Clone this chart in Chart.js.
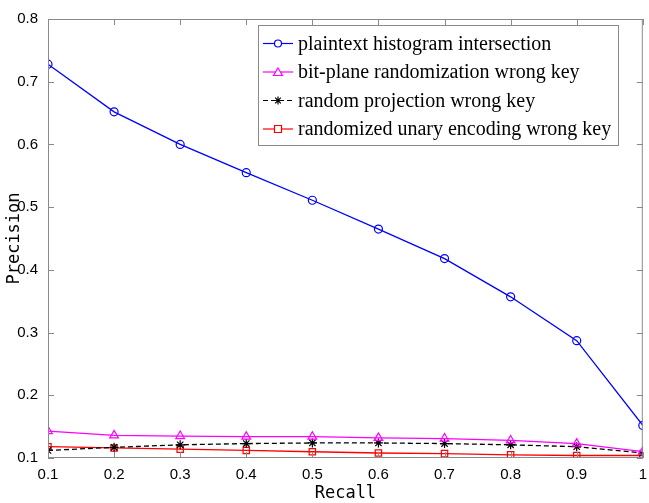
<!DOCTYPE html>
<html>
<head>
<meta charset="utf-8">
<script src="https://cdn.jsdelivr.net/npm/chart.js@4.4.1/dist/chart.umd.min.js"></script>
<style>
  html, body { margin: 0; padding: 0; background: #fff; }
  #wrap { width: 649px; height: 503px; }
</style>
</head>
<body>
<div id="wrap"><canvas id="prChart" width="649" height="503"></canvas></div>
<script>
const recall = [0.1, 0.2, 0.3, 0.4, 0.5, 0.6, 0.7, 0.8, 0.9, 1.0];
const plaintextHist = [0.728, 0.652, 0.600, 0.555, 0.511, 0.465, 0.418, 0.357, 0.287, 0.152];
const bitPlaneWrong = [0.143, 0.136, 0.135, 0.134, 0.134, 0.132, 0.131, 0.128, 0.123, 0.110];
const randProjWrong = [0.112, 0.117, 0.121, 0.123, 0.124, 0.124, 0.123, 0.121, 0.118, 0.108];
const unaryWrong = [0.118, 0.116, 0.114, 0.112, 0.110, 0.108, 0.107, 0.105, 0.104, 0.104];
const seriesLabels = [
    'plaintext histogram intersection',
    'bit-plane randomization wrong key',
    'random projection wrong key',
    'randomized unary encoding wrong key'
];

function toPoints(vals) {
    return vals.map((v, i) => ({ x: recall[i], y: v }));
}

// box + inward ticks on all four sides, matlab style
const boxPlugin = {
    id: 'boxPlugin',
    afterDraw(chart) {
        const { ctx, chartArea: a, scales } = chart;
        ctx.save();
        ctx.strokeStyle = '#8a8a8a';
        ctx.lineWidth = 1;
        ctx.strokeRect(a.left + 0.5, a.top + 0.5, a.right - a.left - 1, a.bottom - a.top - 1);
        ctx.beginPath();
        scales.x.ticks.forEach(t => {
            const px = Math.round(scales.x.getPixelForValue(t.value)) + 0.5;
            ctx.moveTo(px, a.bottom); ctx.lineTo(px, a.bottom - 6);
            ctx.moveTo(px, a.top); ctx.lineTo(px, a.top + 6);
        });
        scales.y.ticks.forEach(t => {
            const py = Math.round(scales.y.getPixelForValue(t.value)) + 0.5;
            ctx.moveTo(a.left, py); ctx.lineTo(a.left + 6, py);
            ctx.moveTo(a.right, py); ctx.lineTo(a.right - 6, py);
        });
        ctx.stroke();
        ctx.restore();
    }
};

// legend drawn by hand so it sits inside the plot like the original
const legendPlugin = {
    id: 'boxLegend',
    afterDraw(chart) {
        const { ctx } = chart;
        const x0 = 258, y0 = 25, w = 360, h = 120;
        ctx.save();
        ctx.fillStyle = '#fff';
        ctx.fillRect(x0, y0, w, h);
        ctx.strokeStyle = '#8a8a8a';
        ctx.lineWidth = 1;
        ctx.strokeRect(x0 + 0.5, y0 + 0.5, w, h);
        ctx.font = '20px "Liberation Serif"';
        ctx.textBaseline = 'middle';
        chart.data.datasets.forEach((ds, i) => {
            const y = y0 + 18.5 + i * 28.5;
            ctx.strokeStyle = ds.borderColor;
            ctx.lineWidth = 1.2;
            ctx.setLineDash(ds.borderDash || []);
            ctx.beginPath();
            ctx.moveTo(x0 + 5, y); ctx.lineTo(x0 + 35, y);
            ctx.stroke();
            ctx.setLineDash([]);
            const style = ds.pointStyle;
            const cx = x0 + 20;
            ctx.beginPath();
            if (style === 'circle') {
                ctx.arc(cx, y, 3.5, 0, Math.PI * 2);
            } else if (style === 'triangle') {
                ctx.moveTo(cx, y - 4); ctx.lineTo(cx + 4.5, y + 3.5); ctx.lineTo(cx - 4.5, y + 3.5); ctx.closePath();
            } else if (style === 'rect') {
                ctx.rect(cx - 3.5, y - 3.5, 7, 7);
            } else {
                for (let k = 0; k < 4; k++) {
                    const ang = k * Math.PI / 4;
                    ctx.moveTo(cx - 4 * Math.cos(ang), y - 4 * Math.sin(ang));
                    ctx.lineTo(cx + 4 * Math.cos(ang), y + 4 * Math.sin(ang));
                }
            }
            ctx.fillStyle = '#fff';
            if (style !== 'star') ctx.fill();
            ctx.stroke();
            ctx.fillStyle = '#000';
            ctx.fillText(ds.label, x0 + 40, y + 1);
        });
        ctx.restore();
    }
};

const ctx = document.getElementById('prChart').getContext('2d');
const prChart = new Chart(ctx, {
    type: 'line',
    data: {
        datasets: [{
            label: seriesLabels[0],
            data: toPoints(plaintextHist),
            borderColor: '#0000ff',
            pointStyle: 'circle',
            pointRadius: 4
        }, {
            label: seriesLabels[1],
            data: toPoints(bitPlaneWrong),
            borderColor: '#ff00ff',
            pointStyle: 'triangle',
            pointRadius: 5
        }, {
            label: seriesLabels[2],
            data: toPoints(randProjWrong),
            borderColor: '#000000',
            borderDash: [5, 3],
            pointStyle: 'star',
            pointRadius: 4.5
        }, {
            label: seriesLabels[3],
            data: toPoints(unaryWrong),
            borderColor: '#ff0000',
            pointStyle: 'rect',
            pointRadius: 4.5
        }].map(ds => Object.assign({
            borderWidth: 1.3,
            backgroundColor: 'transparent',
            pointBorderColor: ds.borderColor,
            pointBackgroundColor: 'transparent',
            pointBorderWidth: 1.2,
            tension: 0,
            fill: false
        }, ds))
    },
    options: {
        responsive: false,
        animation: false,
        layout: { padding: { top: 17, right: 2, left: 0, bottom: 0 } },
        plugins: {
            legend: { display: false },
            tooltip: { enabled: false }
        },
        scales: {
            x: {
                type: 'linear',
                min: 0.1,
                max: 1,
                afterFit: s => { s.height = 45; s.paddingRight = 0; s.paddingLeft = 0; },
                ticks: {
                    stepSize: 0.1,
                    color: '#000',
                    font: { family: '"Liberation Sans"', size: 15 },
                    padding: 8,
                    maxRotation: 0,
                    callback: v => (Math.round(v * 10) / 10).toString()
                },
                grid: { display: false, drawTicks: false },
                border: { display: false },
                title: {
                    display: true,
                    text: 'Recall',
                    color: '#000',
                    font: { family: '"DejaVu Sans Mono"', size: 17, lineHeight: 1.1 },
                    padding: { top: 0, bottom: 0 }
                }
            },
            y: {
                type: 'linear',
                min: 0.1,
                max: 0.8,
                afterFit: s => { s.width = 48; },
                ticks: {
                    stepSize: 0.1,
                    color: '#000',
                    font: { family: '"Liberation Sans"', size: 15 },
                    padding: 10,
                    callback: v => (Math.round(v * 10) / 10).toString()
                },
                grid: { display: false, drawTicks: false },
                border: { display: false },
                title: {
                    display: true,
                    text: 'Precision',
                    color: '#000',
                    font: { family: '"DejaVu Sans Mono"', size: 17 },
                    padding: { top: 4, bottom: 0 }
                }
            }
        }
    },
    plugins: [boxPlugin, legendPlugin]
});
</script>
</body>
</html>
